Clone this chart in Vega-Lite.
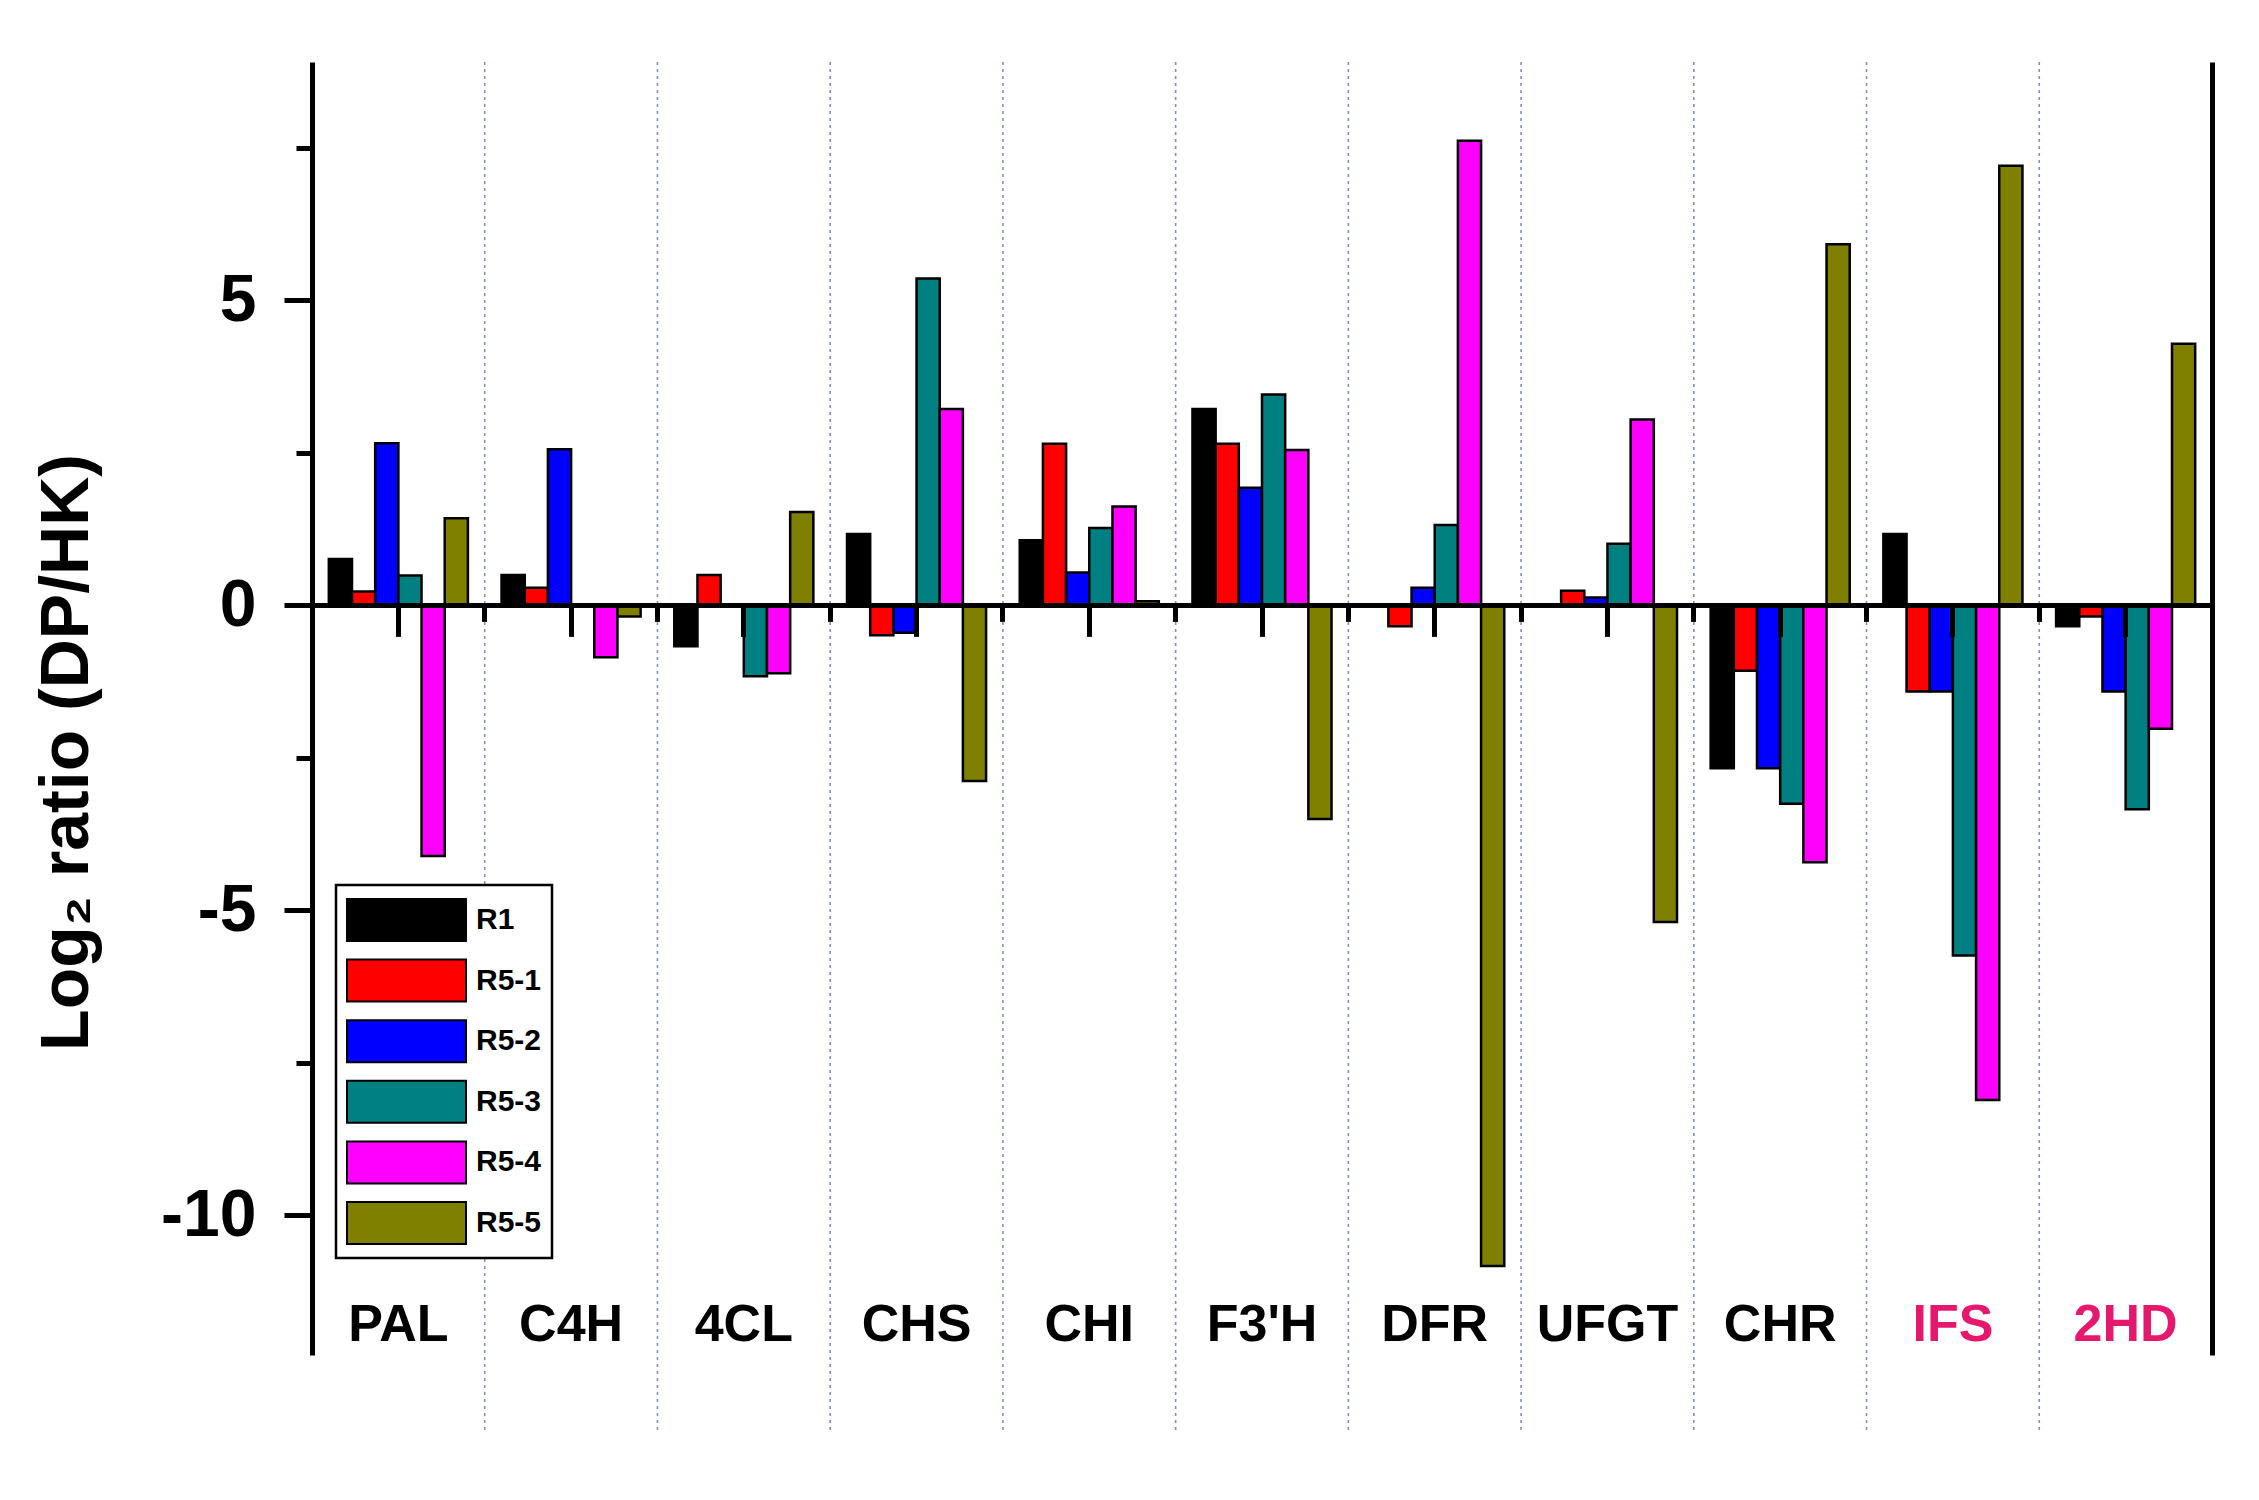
{
  "$schema": "https://vega.github.io/schema/vega-lite/v6.json",
  "width": 1900,
  "height": 1293,
  "autosize": {"type": "none"},
  "padding": {"left": 312, "top": 62, "right": 47, "bottom": 145},
  "background": "white",
  "config": {
    "view": {"stroke": null},
    "font": "Liberation Sans",
    "axis": {"grid": false},
    "legend": {"strokeWidth": 2.5}
  },
  "datasets": {
    "expr": [
      {"gene": "PAL", "series": "R1", "value": 0.76},
      {"gene": "PAL", "series": "R5-1", "value": 0.23},
      {"gene": "PAL", "series": "R5-2", "value": 2.66},
      {"gene": "PAL", "series": "R5-3", "value": 0.49},
      {"gene": "PAL", "series": "R5-4", "value": -4.11},
      {"gene": "PAL", "series": "R5-5", "value": 1.43},
      {"gene": "C4H", "series": "R1", "value": 0.5},
      {"gene": "C4H", "series": "R5-1", "value": 0.29},
      {"gene": "C4H", "series": "R5-2", "value": 2.56},
      {"gene": "C4H", "series": "R5-3", "value": 0},
      {"gene": "C4H", "series": "R5-4", "value": -0.85},
      {"gene": "C4H", "series": "R5-5", "value": -0.18},
      {"gene": "4CL", "series": "R1", "value": -0.67},
      {"gene": "4CL", "series": "R5-1", "value": 0.5},
      {"gene": "4CL", "series": "R5-2", "value": 0},
      {"gene": "4CL", "series": "R5-3", "value": -1.16},
      {"gene": "4CL", "series": "R5-4", "value": -1.11},
      {"gene": "4CL", "series": "R5-5", "value": 1.53},
      {"gene": "CHS", "series": "R1", "value": 1.17},
      {"gene": "CHS", "series": "R5-1", "value": -0.49},
      {"gene": "CHS", "series": "R5-2", "value": -0.45},
      {"gene": "CHS", "series": "R5-3", "value": 5.36},
      {"gene": "CHS", "series": "R5-4", "value": 3.22},
      {"gene": "CHS", "series": "R5-5", "value": -2.88},
      {"gene": "CHI", "series": "R1", "value": 1.07},
      {"gene": "CHI", "series": "R5-1", "value": 2.65},
      {"gene": "CHI", "series": "R5-2", "value": 0.54},
      {"gene": "CHI", "series": "R5-3", "value": 1.27},
      {"gene": "CHI", "series": "R5-4", "value": 1.62},
      {"gene": "CHI", "series": "R5-5", "value": 0.07},
      {"gene": "F3'H", "series": "R1", "value": 3.22},
      {"gene": "F3'H", "series": "R5-1", "value": 2.65},
      {"gene": "F3'H", "series": "R5-2", "value": 1.93},
      {"gene": "F3'H", "series": "R5-3", "value": 3.46},
      {"gene": "F3'H", "series": "R5-4", "value": 2.55},
      {"gene": "F3'H", "series": "R5-5", "value": -3.5},
      {"gene": "DFR", "series": "R1", "value": 0},
      {"gene": "DFR", "series": "R5-1", "value": -0.34},
      {"gene": "DFR", "series": "R5-2", "value": 0.29},
      {"gene": "DFR", "series": "R5-3", "value": 1.32},
      {"gene": "DFR", "series": "R5-4", "value": 7.62},
      {"gene": "DFR", "series": "R5-5", "value": -10.83},
      {"gene": "UFGT", "series": "R1", "value": 0},
      {"gene": "UFGT", "series": "R5-1", "value": 0.24},
      {"gene": "UFGT", "series": "R5-2", "value": 0.13},
      {"gene": "UFGT", "series": "R5-3", "value": 1.01},
      {"gene": "UFGT", "series": "R5-4", "value": 3.05},
      {"gene": "UFGT", "series": "R5-5", "value": -5.19},
      {"gene": "CHR", "series": "R1", "value": -2.67},
      {"gene": "CHR", "series": "R5-1", "value": -1.07},
      {"gene": "CHR", "series": "R5-2", "value": -2.67},
      {"gene": "CHR", "series": "R5-3", "value": -3.25},
      {"gene": "CHR", "series": "R5-4", "value": -4.21},
      {"gene": "CHR", "series": "R5-5", "value": 5.92},
      {"gene": "IFS", "series": "R1", "value": 1.17},
      {"gene": "IFS", "series": "R5-1", "value": -1.41},
      {"gene": "IFS", "series": "R5-2", "value": -1.41},
      {"gene": "IFS", "series": "R5-3", "value": -5.74},
      {"gene": "IFS", "series": "R5-4", "value": -8.11},
      {"gene": "IFS", "series": "R5-5", "value": 7.21},
      {"gene": "2HD", "series": "R1", "value": -0.34},
      {"gene": "2HD", "series": "R5-1", "value": -0.18},
      {"gene": "2HD", "series": "R5-2", "value": -1.41},
      {"gene": "2HD", "series": "R5-3", "value": -3.34},
      {"gene": "2HD", "series": "R5-4", "value": -2.02},
      {"gene": "2HD", "series": "R5-5", "value": 4.29}
    ],
    "genes": [
      {"gene": "PAL"}, {"gene": "C4H"}, {"gene": "4CL"}, {"gene": "CHS"},
      {"gene": "CHI"}, {"gene": "F3'H"}, {"gene": "DFR"}, {"gene": "UFGT"},
      {"gene": "CHR"}, {"gene": "IFS"}, {"gene": "2HD"}
    ]
  },
  "resolve": {"axis": {"x": "independent", "y": "independent"}},
  "layer": [
    {
      "data": {"name": "genes"},
      "transform": [{"filter": "datum.gene !== 'PAL'"}],
      "mark": {"type": "rule", "strokeDash": [3, 4], "color": "#8192b5", "strokeWidth": 1.6},
      "encoding": {
        "x": {
          "field": "gene", "type": "nominal", "bandPosition": 0,
          "scale": {"domain": ["PAL", "C4H", "4CL", "CHS", "CHI", "F3'H", "DFR", "UFGT", "CHR", "IFS", "2HD"], "paddingInner": 0, "paddingOuter": 0},
          "axis": {
            "orient": "bottom", "offset": -749.6, "bandPosition": 0,
            "domain": false, "labels": false, "ticks": true, "tickSize": 16, "tickWidth": 5, "tickColor": "black",
            "title": null, "zindex": 1
          }
        },
        "y": {
          "datum": 8.91, "type": "quantitative",
          "axis": {
            "orient": "left", "values": [-7.5, -2.5, 2.5, 7.5],
            "domain": false, "labels": false, "ticks": true, "tickSize": 16, "tickWidth": 5, "tickColor": "black",
            "title": null, "zindex": 1
          }
        },
        "y2": {"datum": -13.58}
      }
    },
    {
      "data": {"name": "expr"},
      "mark": {"type": "bar", "stroke": "black", "strokeWidth": 2.5},
      "encoding": {
        "x": {
          "field": "gene", "type": "nominal",
          "scale": {"domain": ["PAL", "C4H", "4CL", "CHS", "CHI", "F3'H", "DFR", "UFGT", "CHR", "IFS", "2HD"], "paddingInner": 0, "paddingOuter": 0},
          "axis": {
            "orient": "bottom", "offset": -749.6,
            "domain": false, "ticks": true, "tickSize": 31, "tickWidth": 5, "tickColor": "black",
            "labels": true, "labelAngle": 0, "labelFont": "Liberation Sans", "labelFontSize": 52, "labelFontWeight": "bold",
            "labelPadding": 704, "labelBaseline": "alphabetic",
            "labelColor": {"condition": {"test": "datum.value === 'IFS' || datum.value === '2HD'", "value": "#e6186e"}, "value": "black"},
            "title": null, "zindex": 1
          }
        },
        "xOffset": {
          "field": "series", "type": "nominal",
          "scale": {"domain": ["R1", "R5-1", "R5-2", "R5-3", "R5-4", "R5-5"], "paddingInner": 0, "paddingOuter": 0.726}
        },
        "y": {
          "field": "value", "type": "quantitative",
          "scale": {"domain": [-12.29, 8.91], "nice": false, "zero": false},
          "axis": {
            "orient": "left", "values": [-10, -5, 0, 5],
            "labelExpr": "'' + datum.value",
            "domain": true, "domainColor": "black", "domainWidth": 5,
            "ticks": true, "tickSize": 28, "tickWidth": 5, "tickColor": "black",
            "labelFont": "Liberation Sans", "labelFontSize": 66, "labelFontWeight": "bold", "labelColor": "black", "labelPadding": 28,
            "title": "Log₂ ratio (DP/HK)", "titleFont": "Liberation Sans", "titleFontSize": 68, "titleFontWeight": "bold", "titleColor": "black",
            "titleX": -225, "titleY": 690, "titleAngle": 270, "titleAlign": "center", "titleBaseline": "alphabetic",
            "zindex": 1
          }
        },
        "color": {
          "field": "series", "type": "nominal",
          "scale": {"domain": ["R1", "R5-1", "R5-2", "R5-3", "R5-4", "R5-5"], "range": ["#000000", "#ff0000", "#0000ff", "#008080", "#ff00ff", "#808000"]},
          "legend": {
            "orient": "none", "legendX": 24, "legendY": 823, "title": null,
            "symbolType": "M-1,-0.353L1,-0.353L1,0.353L-1,0.353Z", "symbolSize": 14161,
            "symbolStrokeColor": "black", "symbolStrokeWidth": 2, "symbolOpacity": 1,
            "labelFont": "Liberation Sans", "labelFontSize": 30, "labelFontWeight": "bold", "labelColor": "black",
            "labelOffset": 9, "clipHeight": 50, "rowPadding": 10.6, "padding": 10,
            "strokeColor": "black", "fillColor": "white"
          }
        }
      }
    },
    {
      "data": {"values": [{}]},
      "mark": {"type": "rule", "color": "black", "strokeWidth": 5},
      "encoding": {
        "y": {
          "datum": 0, "type": "quantitative",
          "axis": {
            "orient": "right", "domain": true, "domainColor": "black", "domainWidth": 5,
            "ticks": false, "labels": false, "title": null, "values": [], "zindex": 1
          }
        }
      }
    }
  ]
}
